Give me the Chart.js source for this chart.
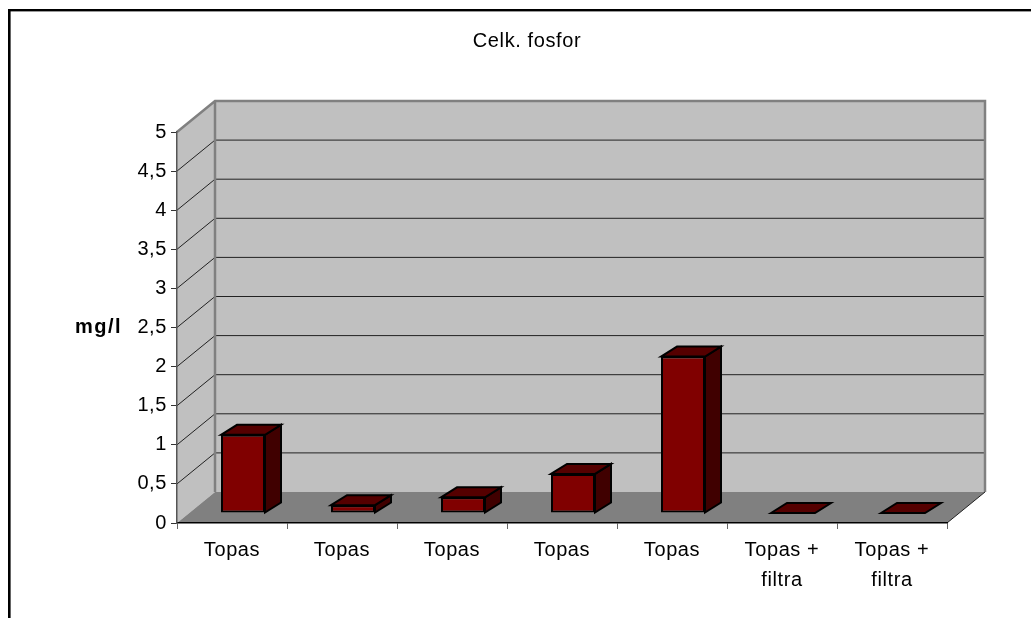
<!DOCTYPE html>
<html>
<head>
<meta charset="utf-8">
<style>html,body{margin:0;padding:0;background:#fff}canvas{display:block}</style>
<script src="https://cdn.jsdelivr.net/npm/chart.js@4"></script>
</head>
<body>
<canvas id="c" width="1031" height="618"></canvas>
<script>
const categories = ["Topas","Topas","Topas","Topas","Topas",["Topas +","filtra"],["Topas +","filtra"]];
const values = [1, 0.1, 0.2, 0.5, 2, 0, 0];
const titleText = "Celk. fosfor";
const yAxisTitle = "mg/l";

const FONT = '"Liberation Sans", Arial, sans-serif';
const WALL_DX = 38, WALL_DY = -31;   // depth of the box
const BAR_DX = 16, BAR_DY = -10;     // depth of a bar
const BAR_SHIFT_X = 11, BAR_SHIFT_Y = -10; // bar position on the floor

function poly(ctx, pts, fill, stroke, lw){
  ctx.beginPath();
  pts.forEach((p,i)=> i?ctx.lineTo(p[0],p[1]):ctx.moveTo(p[0],p[1]));
  ctx.closePath();
  if(fill){ctx.fillStyle=fill;ctx.fill();}
  if(stroke){ctx.strokeStyle=stroke;ctx.lineWidth=lw;ctx.lineJoin='miter';ctx.stroke();}
}

const box3d = {
  id:'box3d',
  beforeDraw(chart){
    const {ctx, chartArea:a, scales:{y}} = chart;
    const dx=WALL_DX, dy=WALL_DY;
    ctx.save();
    // frame (only top and left are in view)
    ctx.fillStyle='#000';
    ctx.fillRect(8,9,1023,2.4);
    ctx.fillRect(8,9,2.6,609);
    // back wall and side wall
    poly(ctx,[[a.left+dx,a.top+dy],[a.right+dx,a.top+dy],[a.right+dx,a.bottom+dy],[a.left+dx,a.bottom+dy]],'#C0C0C0');
    poly(ctx,[[a.left,a.top],[a.left+dx,a.top+dy],[a.left+dx,a.bottom+dy],[a.left,a.bottom]],'#C0C0C0');
    // gridlines on both walls, from the y scale ticks
    y.ticks.forEach(t=>{
      if(t.value===0||t.value===y.max) return;
      const py=y.getPixelForValue(t.value);
      ctx.strokeStyle='#222';ctx.lineWidth=1;
      ctx.beginPath();
      ctx.moveTo(a.left,py);ctx.lineTo(a.left+dx,py+dy);ctx.lineTo(a.right+dx,py+dy);
      ctx.stroke();
    });
    // floor
    poly(ctx,[[a.left,a.bottom],[a.left+dx,a.bottom+dy],[a.right+dx,a.bottom+dy],[a.right,a.bottom]],'#808080');
    // wall outlines
    ctx.strokeStyle='#808080';ctx.lineWidth=2.5;
    ctx.beginPath();
    ctx.moveTo(a.left,a.top);ctx.lineTo(a.left+dx,a.top+dy);ctx.lineTo(a.right+dx,a.top+dy);
    ctx.lineTo(a.right+dx,a.bottom+dy);
    ctx.moveTo(a.left+dx,a.top+dy);ctx.lineTo(a.left+dx,a.bottom+dy);
    ctx.stroke();
    // floor edge
    ctx.strokeStyle='#222';ctx.lineWidth=1;
    ctx.beginPath();
    ctx.moveTo(a.right,a.bottom);ctx.lineTo(a.right+dx,a.bottom+dy);
    ctx.stroke();
    ctx.restore();
    // title is centred on the plot box, not on the chart area
    chart.titleBlock.left=0;chart.titleBlock.right=1054;
    // reference text runs slightly wide
    ctx.letterSpacing='0.6px';
  },
  beforeDatasetDraw(chart){
    chart.ctx.save();
    chart.ctx.translate(BAR_SHIFT_X,BAR_SHIFT_Y);
  },
  afterDatasetDraw(chart,args){
    const ctx=chart.ctx;
    chart.getDatasetMeta(args.index).data.forEach(el=>{
      const l=el.x-el.width/2, r=el.x+el.width/2, t=el.y, b=el.base;
      const dx=BAR_DX, dy=BAR_DY;
      if(b-t>0.5) poly(ctx,[[r,t],[r+dx,t+dy],[r+dx,b+dy],[r,b]],'#400000','#000',2);
      poly(ctx,[[l,t],[l+dx,t+dy],[r+dx,t+dy],[r,t]],'#550000','#000',2);
    });
    ctx.restore();
  },
  afterDraw(chart){
    const ctx=chart.ctx;
    ctx.save();
    ctx.fillStyle='#000';
    ctx.font='bold 20px '+FONT;
    ctx.letterSpacing='1.5px';
    ctx.textAlign='left';ctx.textBaseline='middle';
    ctx.fillText(yAxisTitle,75,chart.scales.y.getPixelForValue(2.5));
    ctx.restore();
  }
};

new Chart(document.getElementById('c'),{
  type:'bar',
  data:{labels:categories,datasets:[{
    data:values,
    backgroundColor:'#800000',
    borderColor:'#000',
    borderWidth:2,
    borderSkipped:false,
    barPercentage:0.4,
    categoryPercentage:1
  }]},
  plugins:[box3d],
  options:{
    responsive:false,
    animation:false,
    devicePixelRatio:1,
    layout:{padding:{left:0,right:84,top:0,bottom:0}},
    plugins:{
      legend:{display:false},
      tooltip:{enabled:false},
      title:{display:true,text:titleText,color:'#000',
        font:{family:FONT,size:20,weight:'normal',lineHeight:1.2},
        padding:{top:29.5,bottom:78.5}}
    },
    scales:{
      x:{
        afterFit(s){s.height=95;},
        grid:{drawOnChartArea:false,drawTicks:true,tickLength:6,tickColor:'#666',offset:true},
        border:{display:true,color:'#000',width:1.5},
        ticks:{color:'#000',autoSkip:false,maxRotation:0,minRotation:0,padding:6,
          font:{family:FONT,size:20,lineHeight:1.5}}
      },
      y:{
        min:0,max:5,
        afterFit(s){s.width=177;},
        grid:{drawOnChartArea:false,drawTicks:true,tickLength:6,tickColor:'#333'},
        border:{display:true,color:'#555',width:1.5},
        ticks:{color:'#000',stepSize:0.5,padding:4,
          font:{family:FONT,size:20},
          callback:v=>String(v).replace('.',',')}
      }
    }
  }
});
</script>
</body>
</html>
